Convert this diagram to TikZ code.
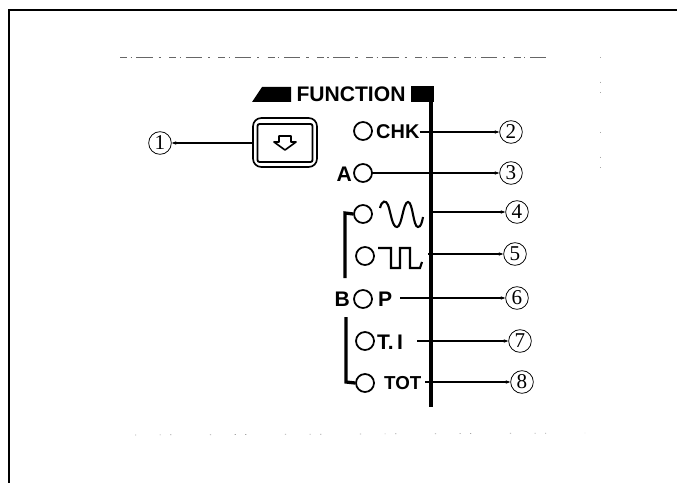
\documentclass[tikz,border=0pt]{standalone}
\usepackage{fontspec}
\usetikzlibrary{arrows.meta}
\setmainfont{Liberation Sans}
\newfontfamily\digitfont{Liberation Serif}
\tikzset{
  numcirc/.style={draw,circle,line width=0.65pt,inner sep=0pt,minimum size=0.68cm,font=\digitfont\fontsize{18}{18}\selectfont},
  led/.style={draw,circle,line width=1.5pt,inner sep=0pt,minimum size=0.54cm},
  lbl/.style={inner sep=0pt,font=\bfseries\fontsize{17}{17}\selectfont},
  lead/.style={line width=0.9pt,-{Stealth[length=4pt,width=3pt]}},
  brack/.style={line width=2.8pt},
  topspeck/.style={line width=0.5pt,black!60,dash pattern=on 6pt off 3pt on 1pt off 4pt on 14pt off 5pt on 2pt off 7pt},
  sidespeck/.style={line width=0.6pt,black!35,dash pattern=on 1pt off 20pt on 1pt off 8pt on 1pt off 33pt}
}
\begin{document}
\begin{tikzpicture}[x=0.03cm,y=-0.03cm]
\useasboundingbox (0,0) rectangle (677,483);
% frame
\draw[line width=2.2pt] (9,483) -- (9,10) -- (677,10);
% specks
\draw[topspeck] (120,57) -- (550,57);
\draw[sidespeck] (135,435) -- (585,433);
\draw[sidespeck] (600,57) -- (600,168);
% title
\fill (252,102) -- (262,87) -- (291,87) -- (291,102) -- cycle;
\node[inner sep=0pt,font=\bfseries\fontsize{18}{18}\selectfont] (title) at (351,94.5) {FUNCTION};
\fill (411,86) rectangle (434,102);
% bar
\draw[line width=4pt] (431,86) -- (431,407);
% button
\node[draw,line width=1.4pt,rounded corners=2.5mm,minimum width=1.92cm,minimum height=1.47cm,inner sep=0pt] (keyouter) at (285,142.5) {};
\node[draw,line width=1.6pt,rounded corners=0.6mm,minimum width=1.65cm,minimum height=1.14cm,inner sep=0pt] (keyinner) at (285,143) {};
\draw[line width=1.4pt,line join=round] (279,136) -- (291,136) -- (291,142) -- (296,142) -- (285,150) -- (274,142) -- (279,142) -- cycle;
% leds
\node[led] (chkled) at (363,131) {};
\node[led] (aled) at (363,173) {};
\node[led] (sineled) at (363,214) {};
\node[led] (pulseled) at (365,256) {};
\node[led] (pled) at (363,299) {};
\node[led] (tiled) at (365,341) {};
\node[led] (totled) at (365,383) {};
% labels
\node[lbl,anchor=west] (chk) at (376,132) {CHK};
\node[lbl,anchor=east,font=\bfseries\fontsize{18}{18}\selectfont] (a) at (352,174) {A};
\node[lbl,anchor=east,font=\bfseries\fontsize{18}{18}\selectfont] (b) at (350,299) {B};
\node[lbl,anchor=west,font=\bfseries\fontsize{18}{18}\selectfont] (p) at (378,299) {P};
\node[lbl,anchor=west,font=\bfseries\fontsize{18}{18}\selectfont] (ti) at (377,342) {T.\,I};
\node[lbl,anchor=west,font=\bfseries\fontsize{16}{16}\selectfont] (tot) at (384,383) {TOT};
% waves
\coordinate (sineend) at (430,212);
\coordinate (pulseend) at (428,254);
\draw[line width=1.8pt] (380,208) .. controls (382,200) and (386,200) .. (388,205) .. controls (391,213) and (392,227) .. (397,227) .. controls (402,227) and (403,202) .. (408,202) .. controls (413,202) and (413,227) .. (418,227) .. controls (421,227) and (422,222) .. (423,217);
\draw[line width=1.8pt] (378,248) -- (391,248) -- (391,268) -- (400,268) -- (400,248) -- (410,248) -- (410,268) -- (420,268) -- (422,262);
% brackets
\draw[brack] (345,278) -- (345,213) -- (sineled.west);
\draw[brack] (346,317) -- (346,382) -- (totled.west);
% numbers
\node[numcirc] (n1) at (160,143) {1};
\node[numcirc] (n2) at (511,132) {2};
\node[numcirc] (n3) at (511,173) {3};
\node[numcirc] (n4) at (517,212) {4};
\node[numcirc] (n5) at (515,254) {5};
\node[numcirc] (n6) at (517,298) {6};
\node[numcirc] (n7) at (520,341) {7};
\node[numcirc] (n8) at (522,382) {8};
% leads
\coordinate (pend) at (400,298);
\coordinate (tiend) at (417,341);
\coordinate (totend) at (425,382);
\draw[lead] (keyouter.west |- n1) -- (n1.east);
\draw[lead] (chk.east |- n2) -- (n2.west);
\draw[lead] (aled.east |- n3) -- (n3.west);
\draw[lead] (sineend) -- (n4.west);
\draw[lead] (pulseend) -- (n5.west);
\draw[lead] (pend) -- (n6.west);
\draw[lead] (tiend) -- (n7.west);
\draw[lead] (totend) -- (n8.west);
\end{tikzpicture}
\end{document}
